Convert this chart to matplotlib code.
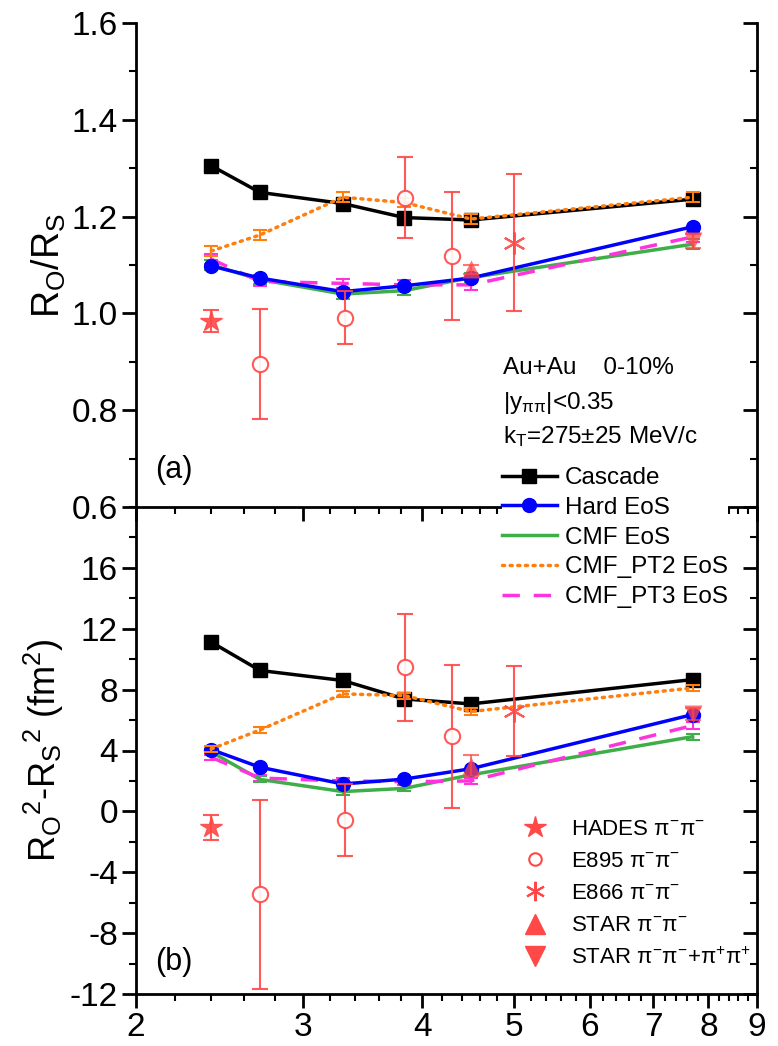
import numpy as np
import matplotlib.pyplot as plt
from matplotlib.ticker import FixedLocator, NullFormatter, MultipleLocator
from matplotlib.lines import Line2D

plt.rcParams['font.family'] = ['Liberation Sans', 'DejaVu Sans']
plt.rcParams['mathtext.fontset'] = 'custom'
plt.rcParams['mathtext.rm'] = 'Liberation Sans'
plt.rcParams['mathtext.default'] = 'regular'
plt.rcParams['axes.unicode_minus'] = False

# model energies (sqrt(s_NN), GeV)
model_x = [2.4, 2.7, 3.3, 3.83, 4.5, 7.7]

# panel (a): R_O / R_S
cascade_r = [1.305, 1.250, 1.227, 1.198, 1.193, 1.236]
hard_r = [1.098, 1.073, 1.045, 1.057, 1.073, 1.179]
cmf_r = [1.100, 1.070, 1.040, 1.047, 1.074, 1.143]
pt2_r = [1.129, 1.162, 1.240, 1.229, 1.195, 1.240]
pt3_r = [1.112, 1.066, 1.062, 1.059, 1.059, 1.158]
model_err_r = 0.01

# panel (b): R_O^2 - R_S^2
cascade_d = [11.12, 9.26, 8.60, 7.39, 7.06, 8.66]
hard_d = [4.06, 2.90, 1.80, 2.12, 2.80, 6.36]
cmf_d = [3.90, 2.10, 1.30, 1.51, 2.40, 4.91]
pt2_d = [4.10, 5.35, 7.72, 7.61, 6.56, 8.11]
pt3_d = [3.55, 2.19, 2.00, 1.95, 2.00, 5.64]
model_err_d = 0.2

# experimental data
hades_x = [2.4]
hades_r, hades_re = [0.984], [0.022]
hades_d, hades_de = [-1.05], [0.82]

e895_x = [2.7, 3.32, 3.84, 4.3]
e895_r, e895_re = [0.895, 0.991, 1.239, 1.118], [0.114, 0.055, 0.084, 0.132]
e895_d, e895_de = [-5.44, -0.57, 9.47, 4.93], [6.2, 2.35, 3.5, 4.7]

e866_x = [5.0]
e866_r, e866_re = [1.146], [0.142]
e866_d, e866_de = [6.62], [2.95]

star_x = [4.5]
star_r, star_re = [1.091], [0.01]
star_d, star_de = [3.0], [0.7]

star2_x = [7.7]
star2_r, star2_re = [1.150], [0.015]
star2_d, star2_de = [6.4], [0.4]

xticks = [2, 3, 4, 5, 6, 7, 8, 9]

BLUE = '#0000ff'
GREEN = '#3fae49'
ORANGE = '#ff7f0e'
MAGENTA = '#ff33dd'
RED = '#ff4848'


def draw_models(ax, cas, hard, cmf, pt2, pt3, err):
    ax.plot(model_x, cas, '-s', color='black', lw=2.5, ms=10.5, zorder=5)
    ax.plot(model_x, hard, '-o', color=BLUE, lw=2.5, ms=10, zorder=4)
    ax.errorbar(model_x, cmf, yerr=err, color=GREEN, lw=2.5, capsize=5,
                elinewidth=1.5, capthick=1.5, zorder=3)
    ax.errorbar(model_x, pt2, yerr=err, color=ORANGE, lw=2.5, ls=(0, (0.6, 1.6)),
                dash_capstyle='round', capsize=5, elinewidth=1.5, capthick=1.5, zorder=6)
    ax.errorbar(model_x, pt3, yerr=err, color=MAGENTA, lw=2.5, ls=(0, (5, 4)),
                capsize=5, elinewidth=1.5, capthick=1.5, zorder=3)


def draw_data(ax, vals):
    kw = dict(ls='none', color=RED, alpha=0.9, capsize=6, elinewidth=1.5,
              capthick=1.5, zorder=7)
    (hr, he), (er, ee), (xr, xe), (sr, se), (s2r, s2e) = vals
    ax.errorbar(hades_x, hr, yerr=he, marker='*', ms=16, mec=RED, **kw)
    ax.errorbar(e895_x, er, yerr=ee, marker='o', ms=11, mfc='white', mec=RED,
                mew=1.5, **kw)
    ax.errorbar(e866_x, xr, yerr=xe, marker=(6, 2, 0), ms=16, mew=1.5, mec=RED, **kw)
    ax.errorbar(star_x, sr, yerr=se, marker='^', ms=13, mec='none',
                **{**kw, 'alpha': 0.75})
    ax.errorbar(star2_x, s2r, yerr=s2e, marker='v', ms=13, mec='none',
                **{**kw, 'alpha': 0.75})


def style_axis(ax):
    ax.set_xscale('log')
    ax.set_xlim(2, 9)
    ax.xaxis.set_major_locator(FixedLocator(xticks))
    ax.xaxis.set_minor_locator(FixedLocator(np.arange(2.2, 9.0, 0.2)))
    ax.xaxis.set_minor_formatter(NullFormatter())
    for s in ['top', 'right']:
        ax.spines[s].set_visible(False)
    for s in ['left', 'bottom']:
        ax.spines[s].set_linewidth(2)
    ax.tick_params(which='major', direction='out', length=10, width=2,
                   labelsize=24, pad=3)
    ax.tick_params(which='minor', direction='out', length=5, width=1.5)
    # mirrored inward ticks on the right
    r = ax.secondary_yaxis('right')
    r.tick_params(which='major', direction='in', length=10, width=2, labelright=False)
    r.tick_params(which='minor', direction='in', length=5, width=1.5)
    r.spines['right'].set_linewidth(2)
    return r


fig = plt.figure(figsize=(7.78, 10.46), dpi=100)
left, right = 136 / 778, 757 / 778
ax1 = fig.add_axes([left, 1 - 507 / 1046, right - left, (507 - 23) / 1046])
ax2 = fig.add_axes([left, 1 - 994 / 1046, right - left, (994 - 507) / 1046])
ax1.set_zorder(ax2.get_zorder() + 1)
ax1.patch.set_visible(False)

draw_models(ax1, cascade_r, hard_r, cmf_r, pt2_r, pt3_r, model_err_r)
draw_data(ax1, [(hades_r, hades_re), (e895_r, e895_re), (e866_r, e866_re),
                (star_r, star_re), (star2_r, star2_re)])
r1 = style_axis(ax1)
ax1.set_ylim(0.6, 1.6)
ax1.yaxis.set_major_locator(MultipleLocator(0.2))
ax1.yaxis.set_minor_locator(MultipleLocator(0.1))
r1.yaxis.set_major_locator(MultipleLocator(0.2))
r1.yaxis.set_minor_locator(MultipleLocator(0.1))
ax1.yaxis.set_major_formatter(plt.FuncFormatter(lambda v, p: f'{v:.1f}'))
ax1.tick_params(axis='x', labelbottom=False)
ax1.set_ylabel('R$_O$/R$_S$', fontsize=27, labelpad=3)
ax1.text(0.03, 0.06, '(a)', transform=ax1.transAxes, fontsize=22)

draw_models(ax2, cascade_d, hard_d, cmf_d, pt2_d, pt3_d, model_err_d)
draw_data(ax2, [(hades_d, hades_de), (e895_d, e895_de), (e866_d, e866_de),
                (star_d, star_de), (star2_d, star2_de)])
r2 = style_axis(ax2)
ax2.set_ylim(-12, 20)
ax2.set_yticks([-12, -8, -4, 0, 4, 8, 12, 16])
ax2.yaxis.set_minor_locator(MultipleLocator(2))
r2.set_yticks([-12, -8, -4, 0, 4, 8, 12, 16])
r2.yaxis.set_minor_locator(MultipleLocator(2))
ax2.xaxis.set_major_formatter(plt.FuncFormatter(lambda v, p: f'{v:g}'))
ax2.set_ylabel('R$_O$$^2$-R$_S$$^2$ (fm$^2$)', fontsize=26, labelpad=3)
ax2.text(0.03, 0.05, '(b)', transform=ax2.transAxes, fontsize=22)

# annotation block
tx = 503 / 778
fig.text(tx, 1 - 368 / 1046, 'Au+Au    0-10%', fontsize=17.5, va='center')
fig.text(tx, 1 - 403 / 1046, '|y$_{\u03c0\u03c0}$|<0.35', fontsize=17.5, va='center')
fig.text(tx, 1 - 437 / 1046, 'k$_T$=275\u00b125 MeV/c', fontsize=17.5, va='center')

model_handles = [
    Line2D([], [], color='black', lw=2.5, marker='s', ms=10),
    Line2D([], [], color=BLUE, lw=2.5, marker='o', ms=10),
    Line2D([], [], color=GREEN, lw=2.5),
    Line2D([], [], color=ORANGE, lw=2.5, ls=(0, (0.6, 1.6)), dash_capstyle='round'),
    Line2D([], [], color=MAGENTA, lw=2.5, ls=(0, (5, 4))),
]
model_labels = ['Cascade', 'Hard EoS', 'CMF EoS', 'CMF_PT2 EoS', 'CMF_PT3 EoS']
fig.legend(model_handles, model_labels, loc='upper left',
           bbox_to_anchor=(502 / 778, 1 - 467 / 1046), frameon=True,
           facecolor='white', edgecolor='none', framealpha=1, fancybox=False,
           fontsize=17.5, handlelength=2.26, handletextpad=0.33,
           labelspacing=0.32, borderpad=0, borderaxespad=0)

data_handles = [
    Line2D([], [], ls='none', color=RED, marker='*', ms=16),
    Line2D([], [], ls='none', color=RED, marker='o', ms=9, mfc='white', mew=1.5),
    Line2D([], [], ls='none', color=RED, marker=(6, 2, 0), ms=14, mew=1.5),
    Line2D([], [], ls='none', color=RED, marker='^', ms=14),
    Line2D([], [], ls='none', color=RED, marker='v', ms=14),
]
data_labels = ['HADES \u03c0$^{{-}}$\u03c0$^{{-}}$', 'E895 \u03c0$^{{-}}$\u03c0$^{{-}}$',
               'E866 \u03c0$^{{-}}$\u03c0$^{{-}}$', 'STAR \u03c0$^{{-}}$\u03c0$^{{-}}$',
               'STAR \u03c0$^{{-}}$\u03c0$^{{-}}$+\u03c0$^{{+}}$\u03c0$^{{+}}$']
fig.legend(data_handles, data_labels, loc='upper left',
           bbox_to_anchor=(519 / 778, 1 - 819 / 1046), frameon=False, fontsize=16,
           handlelength=1.4, handletextpad=0.95, labelspacing=0.5, borderpad=0,
           borderaxespad=0)

fig.savefig('out.png', dpi=100)
